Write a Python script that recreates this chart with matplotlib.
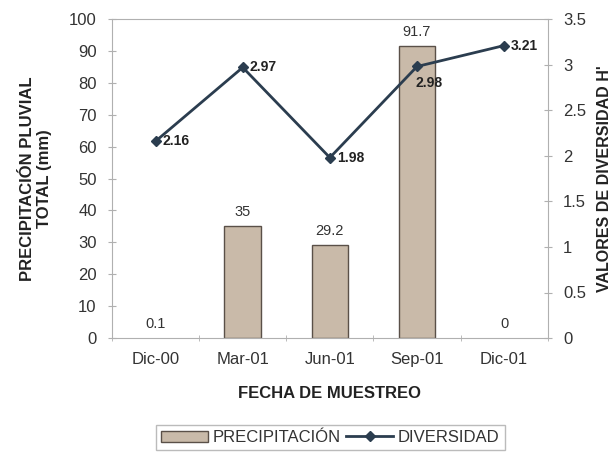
import matplotlib
matplotlib.use("Agg")
import matplotlib.pyplot as plt
from matplotlib.patches import Patch
import numpy as np

fechas = ["Dic-00", "Mar-01", "Jun-01", "Sep-01", "Dic-01"]
precipitacion = [0.1, 35, 29.2, 91.7, 0]
diversidad = [2.16, 2.97, 1.98, 2.98, 3.21]

plt.rcParams['font.family'] = ['Liberation Sans', 'DejaVu Sans']

fig = plt.figure(figsize=(6.12, 4.55), dpi=100)
ax = fig.add_axes([0.183, 0.257, 0.712, 0.701])
x = np.arange(len(fechas))

gris = "#b0b0b0"
relleno = "#c9baa9"
borde = "#5a5048"
bordes = [borde if v >= 1 else "none" for v in precipitacion]
ax.bar(x, precipitacion, width=0.42, color=relleno, edgecolor=bordes,
       linewidth=1.0, zorder=2)
for i, v in enumerate(precipitacion):
    txt = "%g" % v
    ax.text(x[i], v + 2.2, txt, ha="center", va="bottom", fontsize=10.5, color="#333333")

ax.set_xlim(-0.5, 4.5)
ax.set_ylim(0, 100)
ax.set_yticks(np.arange(0, 101, 10))
ax.set_xticks(x)
ax.set_xticklabels(fechas, fontsize=12, color="#333333")
ax.tick_params(axis="x", length=0, pad=10)
ax.set_xticks(np.arange(-0.5, 5, 1), minor=True)
ax.tick_params(axis="x", which="minor", length=4, direction="inout", color=gris)
ax.tick_params(axis="y", direction="inout", length=6, color=gris, labelsize=12,
               labelcolor="#333333", pad=8)
for s in ["left", "bottom", "top"]:
    ax.spines[s].set_color(gris)
ax.spines["right"].set_visible(False)

ax.set_ylabel("PRECIPITACIÓN PLUVIAL\nTOTAL (mm)", fontsize=12, fontweight="bold",
              color="#222222", labelpad=12)
ax.set_xlabel("FECHA DE MUESTREO", fontsize=12, fontweight="bold", color="#222222",
              labelpad=14)

ax2 = ax.twinx()
line, = ax2.plot(x, diversidad, color="#2b3d4f", linewidth=2, marker="D", markersize=5,
                 label="DIVERSIDAD", zorder=3)
ax2.set_ylim(0, 3.5)
ax2.set_yticks(np.arange(0, 3.6, 0.5))
ax2.set_yticklabels(["%g" % t for t in np.arange(0, 3.6, 0.5)])
ax2.tick_params(axis="y", direction="inout", length=6, color=gris, labelsize=12,
                labelcolor="#333333", pad=8)
ax2.spines["right"].set_color(gris)
for s in ["left", "bottom", "top"]:
    ax2.spines[s].set_visible(False)
ax2.set_ylabel("VALORES DE DIVERSIDAD H'", fontsize=11.5, fontweight="bold",
               color="#222222", labelpad=8)

for i, v in enumerate(diversidad):
    if i == 3:
        ax2.text(x[i] - 0.02, v - 0.1, "%.2f" % v, ha="left", va="top", fontsize=10,
                 fontweight="bold", color="#222222")
    else:
        ax2.text(x[i] + 0.08, v, "%.2f" % v, ha="left", va="center", fontsize=10,
                 fontweight="bold", color="#222222")

parche = Patch(facecolor=relleno, edgecolor=borde, linewidth=1.0)
leg = fig.legend([parche, line], ["PRECIPITACIÓN", "DIVERSIDAD"], loc="center",
                 bbox_to_anchor=(0.54, 0.038), ncol=2, frameon=True, fancybox=False,
                 fontsize=12, handlelength=2.8, columnspacing=0.3, handletextpad=0.3,
                 borderpad=0.3, edgecolor="#aaaaaa")
for t in leg.get_texts():
    t.set_color("#333333")

fig.savefig("out.png", dpi=100)
